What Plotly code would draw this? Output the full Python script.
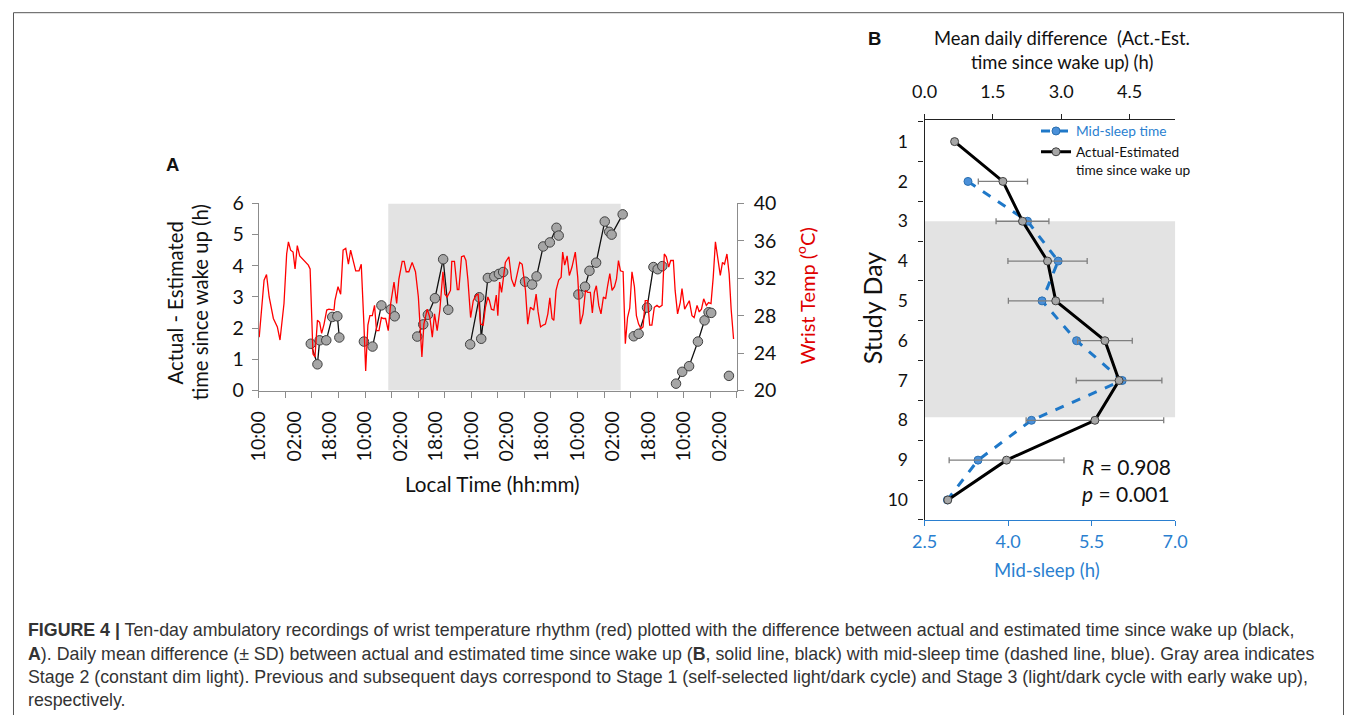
import plotly.graph_objects as go

W, H = 1357, 715

# ---------------- Panel A data ----------------
temp_hours = [0.2, 1.7, 2.4, 3.5, 4.7, 6.6, 8.4, 9.6, 11.4, 12.6, 13.4, 14.4, 15.5, 16.4, 17.4, 18.5,
              20.5, 22.4, 23.2, 23.9, 24.5, 25.4, 26.5, 27.5, 28.4, 29.5, 30.7, 31.7, 34.0, 34.4, 35.8,
              37.0, 38.1, 39.3, 40.5, 41.5, 42.6, 43.8, 45.3, 46.3, 47.5, 48.3, 49.3, 50.2, 51.3, 52.3,
              53.2, 54.3, 55.4, 56.3, 57.3, 58.5, 59.6, 61.1, 62.3, 63.3, 64.8, 65.7, 66.6, 67.8, 69.3,
              70.8, 72.1, 73.1, 73.7, 74.6, 76.1, 77.3, 78.4, 79.4, 80.6, 81.8, 83.2, 84.1, 85.1, 86.6,
              87.2, 88.4, 89.7, 90.4, 91.6, 92.7, 93.6, 94.5, 95.7, 96.9, 98.2, 99.1, 100.2, 101.4, 102.4,
              103.5, 104.2, 105.1, 106.2, 107.3, 108.0, 108.8,
              109.7, 110.4, 111.4, 113.0, 114.2, 115.5, 116.7, 117.9, 119.0, 120.5,
              121.5, 122.7, 124.2, 125.3, 126.2, 127.3, 128.5, 129.5, 130.6, 131.5,
              132.5, 133.3, 134.3, 135.5, 136.6, 137.3, 138.2, 139.3, 140.3, 141.5,
              143.0, 144.1, 145.3, 146.5, 147.6, 148.6, 149.8, 150.7, 151.6, 152.5,
              153.6, 154.6, 155.7, 156.7, 157.6, 158.6, 159.6, 160.7, 161.6, 162.5,
              163.4, 164.6, 165.6, 166.6, 167.6, 168.6, 169.7, 170.6, 171.6, 172.7,
              173.6, 174.6, 175.7, 176.6, 177.6, 178.7, 179.9, 180.9, 182.2, 183.2,
              184.1, 185.2, 186.1, 187.3, 188.1, 189.2, 190.4, 191.2, 192.4, 193.4,
              194.5, 195.7, 196.7, 198.0, 199.0, 200.0, 201.0, 202.2, 203.2, 204.3,
              205.3, 206.3, 207.4, 208.5, 209.5, 210.4, 211.5, 212.5, 213.4, 214.5]
temp_values = [25.7, 29.6, 31.8, 32.4, 30.0, 27.7, 26.8, 25.4, 29.3, 34.6, 35.9, 35.0, 34.8, 33.0, 35.5, 34.4,
               33.9, 33.4, 33.0, 27.1, 23.9, 23.6, 27.5, 27.3, 26.1, 27.1, 28.6, 28.7, 28.6, 29.6, 31.1,
               30.3, 35.0, 35.2, 33.5, 35.0, 33.9, 32.8, 32.8, 33.5, 27.1, 22.1, 27.0, 28.0, 28.0, 29.1,
               26.4, 26.4, 27.8, 27.7, 27.7, 26.4, 29.3, 31.6, 29.3, 31.9, 33.8, 33.8, 32.7, 32.7, 33.7,
               32.7, 30.0, 25.3, 23.6, 27.1, 28.7, 27.8, 25.7, 28.2, 26.4, 28.6, 32.7, 30.3, 30.0, 30.7,
               33.8, 33.8, 30.8, 30.8, 34.3, 34.4, 33.9, 31.8, 27.8, 29.6, 30.2, 30.3, 27.1, 27.0, 28.9,
               30.0, 29.6, 28.7, 28.6, 30.2, 28.0, 31.6,
               30.5, 31.8, 33.7, 34.3, 31.9, 31.1, 32.5, 33.7, 33.5, 30.7,
               27.1, 28.9, 28.6, 30.3, 28.4, 26.8, 27.0, 27.1, 28.2, 29.9,
               27.7, 27.5, 30.7, 31.8, 32.1, 34.8, 33.4, 34.4, 32.3, 33.2,
               34.8, 32.1, 27.1, 28.2, 30.7, 30.5, 30.5, 28.3, 30.5, 31.2,
               29.1, 28.2, 30.0, 29.8, 31.2, 32.5, 30.7, 31.1, 31.9, 33.9,
               32.8, 32.7, 25.0, 27.8, 28.8, 32.7, 31.1, 28.0, 27.1, 26.6,
               26.8, 29.6, 29.6, 27.0, 27.0, 28.9, 29.1, 28.9, 29.1, 34.6,
               34.3, 33.2, 33.9, 33.9, 30.7, 28.2, 29.4, 30.9, 28.7, 29.1,
               29.6, 28.0, 27.8, 29.1, 28.4, 28.7, 29.8, 29.1, 29.4, 29.3,
               32.1, 35.9, 34.1, 32.3, 33.7, 33.5, 34.6, 32.5, 28.7, 25.5]

diff_hours = [23.5, 26.5, 27.5, 30.5, 33.2, 35.5, 36.4, None,
              47.5, 51.4, 55.4, 59.6, 61.4, None,
              71.6, 74.3, 76.4, 79.6, 83.3, 85.6, None,
              95.5, 99.6, 100.5, 103.5, 106.4, 108.5, 110.4, None,
              120.3, 123.5, 125.5, 128.5, 131.5, 134.5, 135.5, None,
              144.4, 147.4, 149.4, 152.4, 156.3, 158.3, 159.4, 164.4, None,
              169.4, 171.6, 175.4, 178.3, 180.2, 182.3, None,
              188.5, 191.3, 194.4, 198.4, 201.4, 203.2, 204.4, None,
              212.4]
diff_values = [1.50, 0.84, 1.61, 1.61, 2.36, 2.38, 1.70, None,
               1.57, 1.41, 2.73, 2.60, 2.38, None,
               1.73, 2.12, 2.43, 2.96, 4.21, 2.59, None,
               1.48, 2.99, 1.66, 3.61, 3.66, 3.74, 3.80, None,
               3.49, 3.40, 3.66, 4.62, 4.75, 5.22, 4.97, None,
               3.08, 3.33, 3.84, 4.10, 5.42, 5.09, 5.00, 5.65, None,
               1.74, 1.82, 2.66, 3.96, 3.89, 3.99, None,
               0.22, 0.60, 0.78, 1.57, 2.25, 2.51, 2.49, None,
               0.47]

x_tick_hours = list(range(0, 209, 16))
x_tick_labels = ["10:00", "02:00", "18:00"] * 4 + ["10:00", "02:00"]
x_minor_hours = list(range(0, 217, 12))
stage2_hours = [58.5, 163.5]

# ---------------- Panel B data ----------------
days = list(range(1, 11))
act_est_mean = [0.66, 1.72, 2.15, 2.70, 2.88, 3.96, 4.27, 3.74, 1.80, 0.51]
act_est_sd = [None, 0.54, 0.58, 0.87, 1.04, 0.60, 0.94, 1.51, 1.26, None]
mid_sleep = [None, 3.28, 4.35, 4.90, 4.61, 5.23, 6.05, 4.42, 3.46, 2.91]
stage2_days = [3.0, 7.92]
top_ticks = [0, 1.5, 3.0, 4.5]
bottom_ticks = [2.5, 4.0, 5.5, 7.0]

# mapping from reference-picture pixels to paper coordinates
SX, SY, OFF = 1381 / 1357, 739 / 715, 12


def px(x):
    return (x * SX - OFF) / W


def py(y):
    return 1 - (y * SY - OFF) / H


FONT = "Lato, 'Open Sans', sans-serif"
BLUE = "#2a7fd0"
GRAY_AX = "#8c8c8c"

fig = go.Figure()

# Panel A
fig.add_trace(go.Scatter(x=temp_hours, y=temp_values, mode="lines", xaxis="x", yaxis="y2",
                         line=dict(color="#ff0000", width=1.3), showlegend=False, hoverinfo="skip"))
fig.add_trace(go.Scatter(x=diff_hours, y=diff_values, mode="lines+markers", xaxis="x", yaxis="y",
                         line=dict(color="#111111", width=1.3), connectgaps=False,
                         marker=dict(size=9.5, color="#a6a6a6", line=dict(color="#404040", width=1)),
                         showlegend=False, hoverinfo="skip"))
fig.add_trace(go.Scatter(x=[None], y=[None], xaxis="x2", yaxis="y", showlegend=False, hoverinfo="skip"))

# Panel B
fig.add_trace(go.Scatter(x=act_est_mean, y=days, mode="lines+markers", xaxis="x4", yaxis="y3",
                         name="Actual-Estimated<br>time since wake up",
                         line=dict(color="#000000", width=3),
                         marker=dict(size=8, color="#a6a6a6", line=dict(color="#404040", width=1)),
                         error_x=dict(type="data", array=act_est_sd, color="#7f7f7f", thickness=1.3, width=3),
                         hoverinfo="skip"))
fig.add_trace(go.Scatter(x=mid_sleep, y=days, mode="lines+markers", xaxis="x3", yaxis="y3",
                         name="<span style='color:%s'>Mid-sleep time</span>" % BLUE,
                         line=dict(color="#1f78c8", width=3, dash="dash"),
                         marker=dict(size=8, color="#4a90d9", line=dict(color="#2a6fb0", width=1)),
                         connectgaps=False, hoverinfo="skip"))

a_dom_x = [px(258), px(737)]
a_dom_y = [py(390), py(203)]
b_dom_x = [px(925), px(1176)]
b_dom_y = [py(519.3), py(119.3)]

tickfont = dict(family=FONT, size=19.5, color="#111111")
tickfont_b = dict(family=FONT, size=18, color="#111111")

fig.update_layout(
    width=W, height=H, autosize=False, margin=dict(l=0, r=0, t=0, b=0),
    paper_bgcolor="white", plot_bgcolor="rgba(0,0,0,0)",
    font=dict(family=FONT, color="#111111"),
    xaxis=dict(domain=a_dom_x, anchor="y", range=[0, 216], tickmode="array",
               tickvals=x_tick_hours, ticktext=x_tick_labels, tickangle=-90, ticks="",
               ticklabelstandoff=12, showline=True, linecolor=GRAY_AX, linewidth=1,
               showgrid=False, zeroline=False, tickfont=tickfont),
    xaxis2=dict(overlaying="x", anchor="y", range=[0, 216], tickmode="array", tickvals=x_minor_hours,
                ticks="outside", ticklen=6, tickcolor=GRAY_AX, showticklabels=False,
                showline=False, showgrid=False, zeroline=False),
    yaxis=dict(domain=a_dom_y, anchor="x", range=[0, 6], dtick=1, ticks="outside", ticklen=6,
               tickcolor=GRAY_AX, showline=True, linecolor=GRAY_AX, showgrid=False, zeroline=False,
               tickfont=tickfont, ticklabelstandoff=4),
    yaxis2=dict(overlaying="y", anchor="x", side="right", range=[20, 40], dtick=4, ticks="outside",
                ticklen=6, tickcolor=GRAY_AX, showline=True, linecolor=GRAY_AX, showgrid=False,
                zeroline=False, tickfont=tickfont, ticklabelstandoff=6),
    xaxis3=dict(domain=b_dom_x, anchor="y3", range=[2.5, 7.0], tickmode="array", tickvals=bottom_ticks,
                ticktext=["%.1f" % v for v in bottom_ticks], ticks="outside", ticklen=5, tickcolor=BLUE,
                showline=True, linecolor=BLUE, linewidth=1.2, showgrid=False, zeroline=False,
                tickfont=dict(family=FONT, size=18, color=BLUE)),
    xaxis4=dict(overlaying="x3", anchor="y3", side="top", range=[0, 5.5], tickmode="array",
                tickvals=top_ticks, ticktext=["%.1f" % v for v in top_ticks], ticks="outside", ticklen=5,
                tickcolor="#222222", showline=True, linecolor="#222222", linewidth=1.2, showgrid=False,
                zeroline=False, tickfont=tickfont_b, ticklabelstandoff=8),
    yaxis3=dict(domain=b_dom_y, anchor="x3", range=[10.5, 0.45], tickmode="array", tickvals=days,
                ticks="", showline=True, linecolor="#222222", linewidth=1.2, showgrid=False,
                zeroline=False, tickfont=dict(family=FONT, size=17.5, color="#111111"),
                ticklabelstandoff=12,
                minor=dict(tick0=0.5, dtick=1, ticks="outside", ticklen=5, tickcolor="#222222")),
    legend=dict(x=1043 / W, y=1 - 107 / H, xanchor="left", yanchor="top", traceorder="reversed",
                bgcolor="rgba(0,0,0,0)", font=dict(family=FONT, size=13.7, color="#111111"),
                itemwidth=30, valign="top", tracegroupgap=0),
    shapes=[
        dict(type="rect", xref="x", yref="y", x0=stage2_hours[0], x1=stage2_hours[1], y0=0, y1=6,
             fillcolor="#e3e3e3", line=dict(width=0), layer="below"),
        dict(type="rect", xref="paper", yref="y3", x0=b_dom_x[0], x1=b_dom_x[1],
             y0=stage2_days[0], y1=stage2_days[1], fillcolor="#e3e3e3", line=dict(width=0), layer="below"),
        dict(type="rect", xref="paper", yref="paper", x0=0.5 / W, x1=1 - 0.5 / W, y0=-0.05, y1=py(12.3),
             fillcolor="rgba(0,0,0,0)", line=dict(color="#555555", width=1)),
    ],
)

ann = []


def add_text(text, x, y, size, color="#111111", angle=0, xanchor="center", family=FONT):
    ann.append(dict(text=text, x=px(x), y=py(y), xref="paper", yref="paper", showarrow=False,
                    xanchor=xanchor, yanchor="middle", textangle=angle,
                    font=dict(family=family, size=size, color=color)))


add_text("<b>A</b>", 172, 164, 18.5, family="Liberation Sans, Arial")
add_text("<b>B</b>", 875, 38, 18.5, family="Liberation Sans, Arial")
add_text("Actual - Estimated", 175, 302, 20.3, angle=-90)
add_text("time since wake up (h)", 200, 302, 20.3, angle=-90)
add_text("Wrist Temp (<sup>o</sup>C)", 806, 295, 20, color="#e00000", angle=-90)
add_text("Local Time (hh:mm)", 492, 483, 20.7)
add_text("Mean daily difference  (Act.-Est.", 1063, 38, 18.4)
add_text("time since wake up) (h)", 1063, 62, 18.4)
add_text("Study Day", 873, 308, 25, angle=-90)
add_text("Mid-sleep (h)", 1048, 569, 18.5, color=BLUE)
add_text("<i>R</i> = 0.908", 1081, 466, 21, xanchor="left")
add_text("<i>p</i> = 0.001", 1081, 493, 21, xanchor="left")

CAP = "'Liberation Sans', Arial"
cap_lines = [
    "<b>FIGURE 4 |</b> Ten-day ambulatory recordings of wrist temperature rhythm (red) plotted with the difference between actual and estimated time since wake up (black,",
    "<b>A</b>). Daily mean difference (\u00b1 SD) between actual and estimated time since wake up (<b>B</b>, solid line, black) with mid-sleep time (dashed line, blue). Gray area indicates",
    "Stage 2 (constant dim light). Previous and subsequent days correspond to Stage 1 (self-selected light/dark cycle) and Stage 3 (light/dark cycle with early wake up),",
    "respectively.",
]
cap_y = [629.5, 653, 676.5, 699]
for line, yy in zip(cap_lines, cap_y):
    add_text(line, 25, yy, 17.8, color="#333333", xanchor="left", family=CAP)

fig.update_layout(annotations=ann)

fig.write_html("out.html",
               config={"responsive": False, "displayModeBar": False},
               post_script="document.body.style.margin='0';document.body.style.padding='0';"
                           "document.documentElement.style.overflow='hidden';")
